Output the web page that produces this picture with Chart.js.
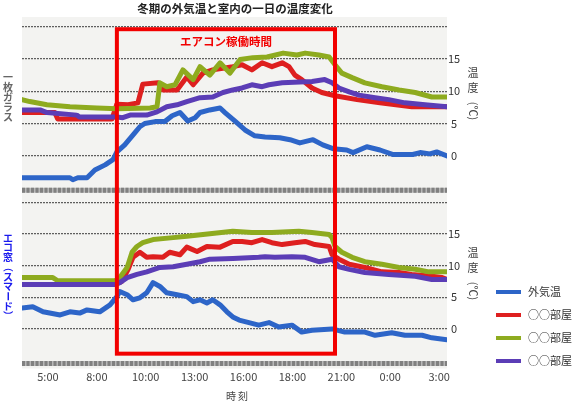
<!DOCTYPE html>
<html><head><meta charset="utf-8">
<script src="https://cdn.jsdelivr.net/npm/chart.js@4/dist/chart.umd.min.js"></script>
<style>html,body{margin:0;padding:0;background:#fff;}#wrap{position:relative;width:578px;height:402px;}canvas{display:block;}</style>
</head><body><div id="wrap"><canvas id="c" width="578" height="402" style="width:578px;height:402px"></canvas></div>
<script>
// ---- labels ----
const chartTitle = '冬期の外気温と室内の一日の温度変化';
const timeLabels = ['5:00','8:00','10:00','13:00','16:00','18:00','21:00','0:00','3:00'];
const xTitle = '時刻';
const yTitleChars = ['温','度'];
const yTitleUnit = '(℃)';
const yTickValues = [0,5,10,15,20];
const yTickLabels = ['0','5','10','15',''];
const panelTopName = '一枚ガラス';
const panelBotName = 'エコ窓（スマード）';
const seriesNames = ['外気温','○○部屋','○○部屋','○○部屋'];
const acLabel = 'エアコン稼働時間';
const acStart = 1.41, acEnd = 5.87;   // air-con period on the time axis
const acTopTemp = 19.6, acBotTemp = -3.9;

// ---- top panel: 一枚ガラス ----
const topOutX = [-0.53,0.45,0.51,0.61,0.80,0.96,1.17,1.33,1.41,1.57,1.78,1.88,1.98,2.19,2.39,2.54,2.70,2.86,3.01,3.11,3.31,3.52,3.62,3.82,4.03,4.23,4.44,4.74,4.95,5.15,5.42,5.62,5.83,6.11,6.24,6.52,6.79,7.06,7.46,7.61,7.81,7.95,8.16];
const topOutY = [-3.4,-3.4,-3.7,-3.4,-3.4,-2.2,-1.4,-0.6,0.6,1.7,3.6,4.5,5.0,5.3,5.3,6.2,6.7,5.4,5.9,6.7,7.1,7.4,6.7,5.4,4.0,3.1,2.9,2.8,2.5,2.0,2.5,1.7,1.1,0.9,0.5,1.4,0.9,0.2,0.2,0.5,0.3,0.6,0.0];
const topRedX = [-0.53,0.14,0.20,1.31,1.41,1.64,1.84,1.94,2.25,2.35,2.64,2.84,2.97,3.17,3.37,3.78,3.97,4.17,4.38,4.58,4.79,4.93,5.05,5.19,5.40,5.60,5.87,6.32,6.79,7.44,8.16];
const topRedY = [6.7,6.7,5.7,5.7,8.0,7.9,8.2,11.1,11.3,10.2,10.2,12.2,11.0,12.8,13.3,13.8,14.1,13.3,14.4,13.8,14.4,13.8,12.5,11.8,10.5,9.8,9.3,8.7,8.2,7.6,7.6];
const topGreenX = [-0.53,-0.37,-0.02,0.45,1.00,1.41,2.09,2.23,2.29,2.43,2.60,2.76,2.97,3.11,3.31,3.52,3.72,3.93,4.19,4.48,4.81,5.09,5.26,5.54,5.75,5.87,6.01,6.22,6.48,6.83,7.18,7.51,7.85,8.16];
const topGreenY = [8.7,8.4,7.9,7.6,7.4,7.3,7.4,7.6,11.3,10.7,11.0,13.3,11.8,13.8,12.5,14.4,12.8,14.9,15.2,15.3,15.9,15.6,15.9,15.6,15.3,14.1,12.8,12.1,11.3,10.7,10.2,9.8,9.1,9.1];
const topPurpleX = [-0.53,-0.16,-0.02,0.59,0.65,1.41,1.53,1.68,2.02,2.23,2.43,2.64,2.84,3.11,3.37,3.58,3.78,3.97,4.17,4.38,4.52,4.79,5.40,5.66,5.81,5.95,6.16,6.36,6.69,6.97,7.30,7.71,8.16];
const topPurpleY = [7.1,7.1,6.7,6.3,6.0,6.0,5.9,6.3,6.3,6.8,7.6,7.9,8.4,9.0,9.1,9.8,10.2,10.5,11.0,10.7,11.0,11.3,11.5,11.8,11.3,10.5,9.9,9.4,9.0,8.7,8.2,7.9,7.6];

// ---- bottom panel: エコ窓 ----
const botOutX = [-0.53,-0.31,-0.10,0.25,0.45,0.65,0.80,1.06,1.27,1.41,1.47,1.62,1.74,1.88,2.02,2.15,2.29,2.43,2.64,2.84,2.97,3.11,3.25,3.37,3.52,3.66,3.78,3.91,4.11,4.31,4.52,4.72,4.99,5.19,5.40,5.81,6.07,6.48,6.69,7.03,7.30,7.65,7.85,8.16];
const botOutY = [3.3,3.5,2.7,2.2,2.7,2.5,3.0,2.7,3.8,5.1,5.9,5.4,4.6,4.9,5.7,7.3,6.7,5.7,5.4,5.1,4.3,4.6,4.1,4.6,3.8,2.7,1.9,1.4,1.0,0.6,1.0,0.3,0.6,-0.5,-0.2,0.0,-0.5,-0.5,-1.0,-0.6,-1.0,-1.0,-1.4,-1.7];
const botRedX = [-0.53,1.37,1.51,1.64,1.74,1.88,2.02,2.15,2.35,2.49,2.70,2.84,3.05,3.25,3.52,3.78,3.97,4.17,4.38,4.58,4.79,5.05,5.26,5.46,5.75,5.81,5.95,6.16,6.48,6.83,7.18,7.44,7.85,8.06,8.16];
const botRedY = [7.0,7.0,7.5,9.4,11.3,12.1,11.3,11.4,11.3,12.1,11.7,12.9,12.2,13.0,12.9,13.8,13.8,13.6,14.1,13.6,13.3,13.6,13.8,13.3,13.0,11.7,11.0,10.2,9.7,9.0,8.9,8.6,8.3,8.1,7.8];
const botGreenX = [-0.53,0.10,0.20,1.37,1.47,1.62,1.72,1.82,1.94,2.15,2.56,2.84,3.17,3.78,4.17,4.58,5.13,5.40,5.75,5.81,5.87,6.01,6.22,6.48,6.83,7.18,7.51,7.79,8.16];
const botGreenY = [8.1,8.1,7.6,7.6,8.1,9.7,12.1,13.0,13.6,14.1,14.4,14.6,14.9,15.4,15.2,15.2,15.4,15.2,14.9,14.4,13.0,12.1,11.3,10.6,10.2,9.7,9.4,9.0,9.0];
const botPurpleX = [-0.53,1.37,1.47,1.62,1.82,2.02,2.29,2.56,2.84,3.11,3.31,3.78,4.31,4.44,4.64,4.99,5.26,5.54,5.81,5.95,6.16,6.48,6.97,7.51,7.85,8.16];
const botPurpleY = [7.0,7.0,7.3,8.1,8.6,9.0,9.7,9.8,10.2,10.6,11.0,11.1,11.3,11.4,11.3,11.4,11.3,10.6,11.0,9.8,9.4,8.9,8.6,8.3,7.8,7.8];

const colors = ['#2d65c8','#de1f1f','#8eab1f','#5b3db6'];
const FONT = '"Noto Sans CJK JP","Noto Sans",sans-serif';

function pts(xs, ys){ return xs.map((x,i)=>({x:x, y:ys[i]})); }
function ds(xs, ys, ci, axis, order){
  return {label: seriesNames[ci], data: pts(xs,ys), yAxisID: axis, borderColor: colors[ci],
    backgroundColor: colors[ci], borderWidth: 5, pointRadius: 0, tension: 0,
    borderJoinStyle: 'round', borderCapStyle: 'round', fill: false, order: order};
}
const datasets = [
  ds(topPurpleX, topPurpleY, 3, 'yTop', 0),
  ds(topGreenX, topGreenY, 2, 'yTop', 1),
  ds(topRedX, topRedY, 1, 'yTop', 2),
  ds(topOutX, topOutY, 0, 'yTop', 3),
  ds(botPurpleX, botPurpleY, 3, 'yBot', 4),
  ds(botGreenX, botGreenY, 2, 'yBot', 5),
  ds(botRedX, botRedY, 1, 'yBot', 6),
  ds(botOutX, botOutY, 0, 'yBot', 7)
];

function vText(ctx, chars, x, y0, step, rot){
  chars.forEach((ch,i)=>{
    const y = y0 + i*step;
    if (rot.includes(ch)) { ctx.save(); ctx.translate(x,y); ctx.rotate(Math.PI/2); ctx.fillText(ch,0,0); ctx.restore(); }
    else ctx.fillText(ch, x, y);
  });
}

const decor = {
  id: 'decor',
  beforeDraw(chart){
    const {ctx, chartArea:a} = chart;
    ctx.save();
    ctx.fillStyle = '#f3f3f1';
    ctx.fillRect(a.left, a.top, a.right - a.left, a.bottom - a.top + 5);
    ctx.restore();
  },
  beforeDatasetsDraw(chart){
    const {ctx, chartArea:a, scales} = chart;
    ctx.save();
    [scales.yTop.bottom, scales.yBot.bottom].forEach(y=>{
      ctx.lineWidth = 5; ctx.setLineDash([]); ctx.strokeStyle = '#b8b8b8';
      ctx.beginPath(); ctx.moveTo(a.left, y); ctx.lineTo(a.right, y); ctx.stroke();
      ctx.setLineDash([3,1.5]); ctx.strokeStyle = '#808080';
      ctx.beginPath(); ctx.moveTo(a.left, y); ctx.lineTo(a.right, y); ctx.stroke();
    });
    ctx.restore();
  },
  afterDatasetsDraw(chart){
    const {ctx, scales} = chart;
    const x1 = scales.x.getPixelForValue(acStart), x2 = scales.x.getPixelForValue(acEnd);
    const y1 = scales.yTop.getPixelForValue(acTopTemp), y2 = scales.yBot.getPixelForValue(acBotTemp);
    ctx.save();
    ctx.strokeStyle = '#f20000'; ctx.lineWidth = 4; ctx.setLineDash([]);
    ctx.strokeRect(x1, y1, x2 - x1, y2 - y1);
    ctx.fillStyle = '#f20000'; ctx.font = 'bold 11.5px ' + FONT;
    ctx.textAlign = 'center'; ctx.textBaseline = 'middle';
    ctx.fillText(acLabel, (x1 + x2)/2, y1 + 12);
    ctx.restore();
  },
  afterDraw(chart){
    const {ctx, chartArea:a, scales} = chart;
    ctx.save();
    ctx.textAlign = 'center'; ctx.textBaseline = 'middle';
    // title
    ctx.fillStyle = '#222'; ctx.font = 'bold 11.5px ' + FONT;
    ctx.fillText(chartTitle, 235, 9);
    // x title
    ctx.fillStyle = '#444'; ctx.font = '10px ' + FONT;
    ctx.fillText(xTitle.split('').join(' '), 237, 396);
    // left panel names
    ctx.font = 'bold 10px ' + FONT;
    ctx.fillStyle = '#666';
    vText(ctx, panelTopName.split(''), 8, 77, 10, []);
    ctx.fillStyle = '#1a1aee';
    vText(ctx, panelBotName.split(''), 8, 238, 9.7, ['（','）','ー']);
    // right y titles
    ctx.fillStyle = '#444'; ctx.font = '11px ' + FONT;
    [[scales.yTop, 73], [scales.yBot, 253]].forEach(([s, y0])=>{
      vText(ctx, yTitleChars, 473, y0, 15, []);
      ctx.save(); ctx.translate(473, y0 + 38); ctx.rotate(Math.PI/2);
      ctx.fillText(yTitleUnit, 0, 0); ctx.restore();
    });
    // legend
    ctx.textAlign = 'left';
    ctx.font = '11px ' + FONT;
    seriesNames.forEach((n,i)=>{
      const y = 292 + i*23;
      ctx.strokeStyle = colors[i]; ctx.lineWidth = 4; ctx.lineCap = 'butt';
      ctx.beginPath(); ctx.moveTo(496, y); ctx.lineTo(521, y); ctx.stroke();
      ctx.fillStyle = '#333'; ctx.fillText(n, 528, y);
    });
    ctx.restore();
  }
};

function yAxis(min, max){
  return {
    type: 'linear', position: 'right', stack: 'temp', stackWeight: 1,
    min: min, max: max,
    afterBuildTicks: s => { s.ticks = yTickValues.map(v => ({value: v})); },
    afterFit: s => { s.width = 131; },
    ticks: { callback: (v) => yTickLabels[yTickValues.indexOf(v)], color: '#333',
      font: {size: 11, family: FONT}, padding: 1, crossAlign: 'center' },
    grid: { color: '#5e5e5e', lineWidth: 1.2, drawTicks: false },
    border: { display: false, dash: [2,1] }
  };
}

new Chart(document.getElementById('c'), {
  type: 'line',
  data: { datasets: datasets },
  options: {
    responsive: false, animation: false, devicePixelRatio: 1,
    layout: { padding: { left: 22, top: 17, right: 0, bottom: 0 } },
    plugins: { legend: { display: false }, tooltip: { enabled: false }, title: { display: false } },
    scales: {
      x: {
        type: 'linear', min: -0.53, max: 8.16,
        afterBuildTicks: s => { s.ticks = timeLabels.map((_, i) => ({value: i})); },
        afterFit: s => { s.height = 38.5; },
        ticks: { callback: v => timeLabels[v], color: '#444', font: {size: 11, family: FONT}, padding: 7, maxRotation: 0, autoSkip: false },
        grid: { display: false, drawTicks: false },
        border: { display: false }
      },
      yTop: yAxis(-5.33, 21.49),
      yBot: yAxis(-5.45, 21.87)
    }
  },
  plugins: [decor]
});
</script>
</body></html>
